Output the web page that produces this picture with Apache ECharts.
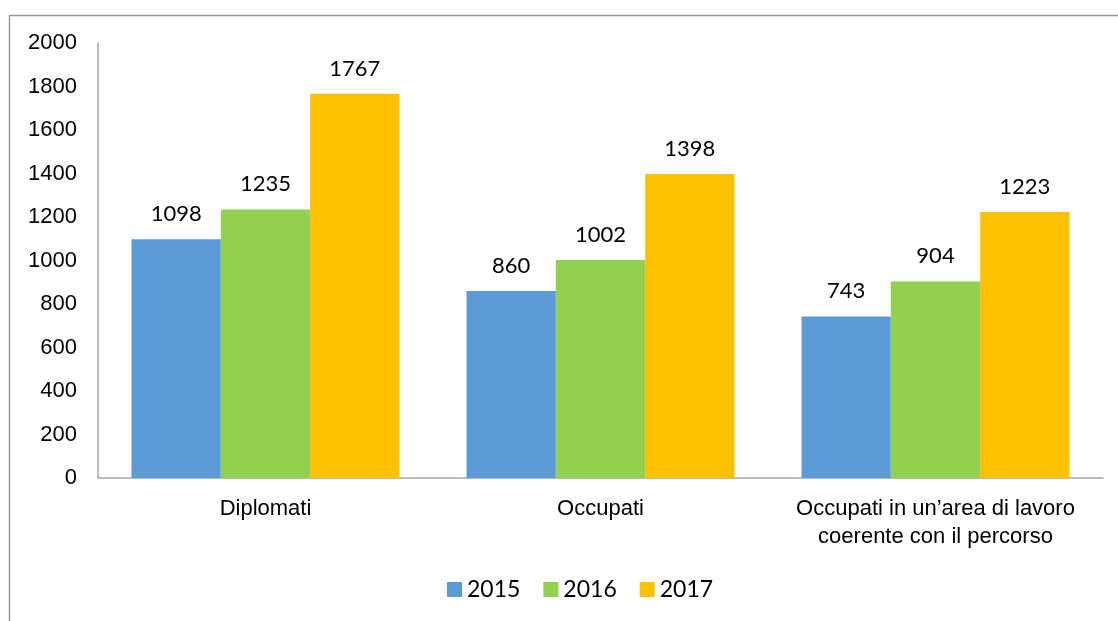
<!DOCTYPE html>
<html>
<head>
<meta charset="utf-8">
<script src="https://cdn.jsdelivr.net/npm/echarts@6/dist/echarts.min.js"></script>
<style>
html, body { margin: 0; padding: 0; background: #fff; }
#chart { width: 1118px; height: 621px; }
</style>
</head>
<body>
<div id="chart"></div>
<script>
// dati
const categories = ['Diplomati', 'Occupati', 'Occupati in un\u2019area di lavoro\ncoerente con il percorso'];
const years = ['2015', '2016', '2017'];
const values2015 = [1098, 860, 743];
const values2016 = [1235, 1002, 904];
const values2017 = [1767, 1398, 1223];
const colors = ['#5B9BD5', '#92D050', '#FFC000'];

const chart = echarts.init(document.getElementById('chart'));
const serie = [values2015, values2016, values2017].map((v, i) => ({
	name: years[i],
	type: 'bar',
	data: v,
	barGap: 0,
	barCategoryGap: '20%',
	itemStyle: { color: colors[i] },
	label: {
		show: true,
		position: 'top',
		distance: 14,
		fontFamily: 'Lato',
		fontSize: 22,
		color: '#000'
	}
}));

chart.setOption({
	animation: false,
	// cornice esterna
	graphic: [{
		type: 'rect',
		left: 7, top: 13,
		shape: { width: 1130, height: 700 },
		style: { fill: 'none', stroke: '#999', lineWidth: 1.5 },
		silent: true
	}],
	grid: { left: 98, right: 15, top: 43, bottom: 143 },
	legend: {
		bottom: 15,
		left: 442,
		itemWidth: 15,
		itemHeight: 15,
		itemGap: 23,
		icon: 'rect',
		textStyle: { fontFamily: 'Lato', fontSize: 23, color: '#000' },
		data: years
	},
	xAxis: {
		type: 'category',
		data: categories,
		axisLine: { lineStyle: { color: '#A6A6A6', width: 1.5 } },
		axisTick: { show: false },
		axisLabel: {
			fontFamily: 'Liberation Sans',
			fontSize: 22,
			color: '#000',
			margin: 17,
			lineHeight: 28,
			interval: 0
		}
	},
	yAxis: {
		type: 'value',
		min: 0,
		max: 2000,
		interval: 200,
		splitLine: { show: false },
		axisLine: { show: true, lineStyle: { color: '#A6A6A6', width: 1.5 } },
		axisTick: { show: false },
		axisLabel: {
			fontFamily: 'Liberation Sans',
			fontSize: 22,
			color: '#000',
			margin: 21,
			formatter: (v) => String(v)
		}
	},
	series: serie
});
</script>
</body>
</html>
